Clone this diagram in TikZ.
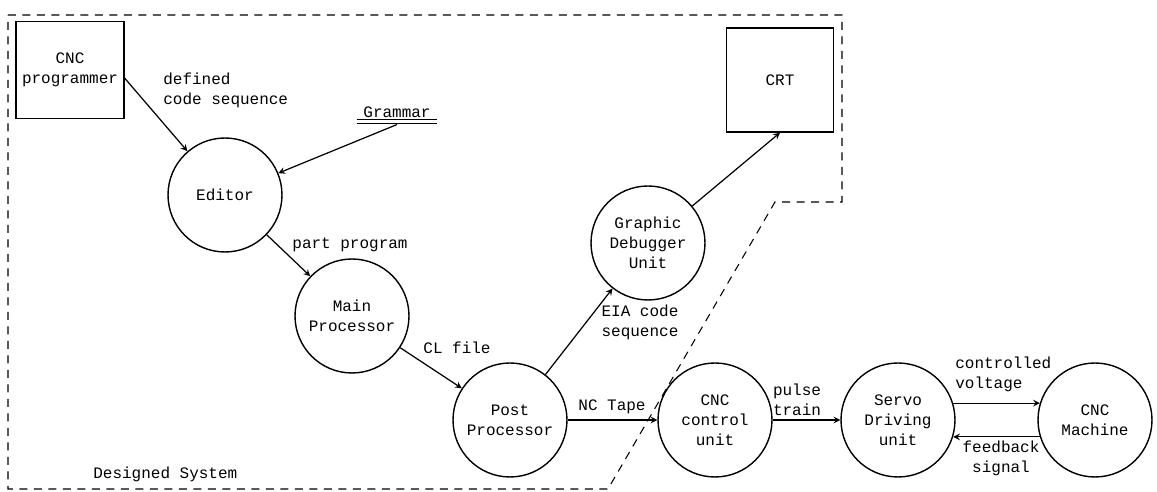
\documentclass[tikz,border=0pt]{standalone}
\usepackage{fontspec}
\setmainfont{Liberation Mono}
\usetikzlibrary{arrows,positioning}
\tikzset{>=stealth}

\begin{document}
\begin{tikzpicture}[x=0.02cm,y=-0.02cm,
    font=\fontsize{9.1}{11.4}\selectfont,
    proc/.style={circle,draw,line width=0.8pt,minimum size=2.28cm,inner sep=0pt,align=center},
    term/.style={rectangle,draw,line width=0.8pt,align=center},
    flow/.style={->,line width=0.7pt},
    lbl/.style={inner sep=0pt,align=left}]
  \useasboundingbox (0,0) rectangle (1157,492);

  % boundary of the designed system
  \draw[dash pattern=on 0.16cm off 0.13cm,line width=0.6pt]
    (8,15) -- (842,15) -- (842,202) -- (775,202) -- (608,489) -- (8,489) -- cycle;
  \node[lbl,anchor=west] (sysname) at (93,474) {Designed System};

  % terminators
  \node[term,minimum width=2.14cm,minimum height=1.94cm] (prog) at (70,70) {CNC\\programmer};
  \node[term,minimum width=2.14cm,minimum height=2.08cm] (crt) at (780,80) {CRT};

  % data store
  \node[inner sep=1pt,minimum width=1.6cm] (grammar) at (397,112) {Grammar};
  \draw[line width=0.6pt] (grammar.south west) -- (grammar.south east);
  \draw[line width=0.6pt] ([yshift=-0.08cm]grammar.south west) -- ([yshift=-0.08cm]grammar.south east);

  % processes
  \node[proc] (editor) at (225,195) {Editor};
  \node[proc] (main) at (352,316) {Main\\Processor};
  \node[proc] (post) at (510,420) {Post\\Processor};
  \node[proc] (debug) at (648,243) {Graphic\\Debugger\\Unit};
  \node[proc] (ctrl) at (715,420) {CNC\\control\\unit};
  \node[proc] (servo) at (898,420) {Servo\\Driving\\unit};
  \node[proc] (machine) at (1095,420) {CNC\\Machine};

  % data flows
  \draw[flow] ([yshift=-0.16cm]prog.east) -- (editor);
  \draw[flow] ([yshift=-0.1cm]grammar.south) -- (editor);
  \draw[flow] (editor) -- (main);
  \draw[flow] (main) -- (post);
  \draw[flow] (post) -- (debug);
  \draw[flow] (debug) -- (crt.south);
  \draw[flow] (post) -- (ctrl);
  \draw[flow] (ctrl) -- (servo);
  \draw[flow] (servo.17) -- (machine.163);
  \draw[flow] (machine.197) -- (servo.-17);

  \node[lbl,anchor=west] (lbldef) at (163,90) {defined\\ code sequence};
  \node[lbl] (lblpart) at (350,245) {part program};
  \node[lbl] (lblcl) at (457,348) {CL file};
  \node[lbl,align=center] (lbleia) at (640,322) {EIA code\\sequence};
  \node[lbl] (lbltape) at (612,407) {NC Tape};
  \node[lbl] (lblpulse) at (797,400) {pulse\\train};
  \node[lbl,anchor=west] (lblvolt) at (955,374) {controlled\\voltage};
  \node[lbl,align=center] (lblfeed) at (1001,458) {feedback\\signal};
\end{tikzpicture}
\end{document}
